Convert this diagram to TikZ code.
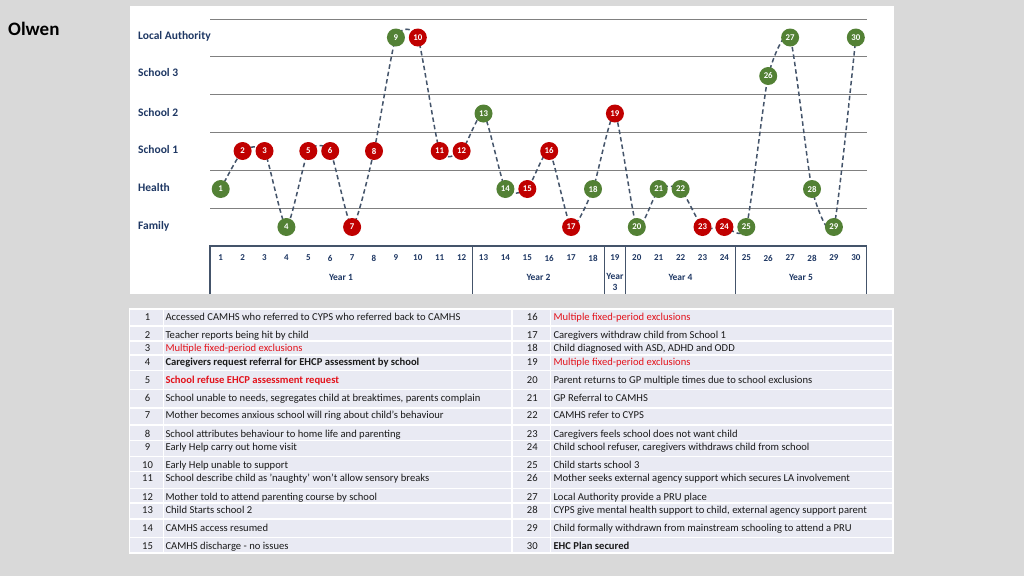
\documentclass[tikz,border=0pt]{standalone}
\usepackage{fontspec}
\setmainfont{Carlito}
\definecolor{pagebg}{HTML}{D9D9D9}
\definecolor{navy}{HTML}{1F3864}
\definecolor{evgreen}{HTML}{538135}
\definecolor{evred}{HTML}{C00000}
\definecolor{conncol}{HTML}{44546A}
\definecolor{gridcol}{HTML}{808080}
\definecolor{tablefill}{HTML}{E9EAF3}
\definecolor{txtred}{HTML}{E3121B}
\definecolor{txtcol}{HTML}{1A1A1A}
\begin{document}
\begin{tikzpicture}[x=1pt,y=1pt,
  ev/.style={circle,minimum size=18pt,inner sep=0pt,text=white,font=\fontsize{8.8}{9}\selectfont\bfseries},
  evg/.style={ev,fill=evgreen},
  evr/.style={ev,fill=evred},
  conn/.style={draw=conncol,line width=1.5pt,dash pattern=on 4.5pt off 3pt},
  gridline/.style={draw=gridcol,line width=1pt},
  axisline/.style={draw=conncol,line width=1.5pt},
  rowlab/.style={anchor=west,text=navy,font=\fontsize{11.5}{13}\selectfont\bfseries,inner sep=0pt},
  axnum/.style={text=navy,font=\fontsize{9}{10}\selectfont\bfseries,inner sep=0pt},
  yearlab/.style={text=navy,font=\fontsize{9.5}{10.5}\selectfont\bfseries,inner sep=0pt,align=center},
  tnum/.style={text=txtcol,font=\fontsize{10.6}{12}\selectfont,inner sep=0pt,text height=7pt,text depth=0.4pt},
  ttxt/.style={anchor=west,text=txtcol,font=\fontsize{10.6}{12}\selectfont,inner sep=0pt,text height=7pt,text depth=0.4pt},
  tred/.style={ttxt,text=txtred},
  tbold/.style={ttxt,font=\fontsize{10.6}{12}\selectfont\bfseries},
  tboldred/.style={tbold,text=txtred}
]
% background and panel
\fill[pagebg] (0,0) rectangle (1024,-576);
\useasboundingbox (0,0) rectangle (1024,-576);
\fill[white] (130,-6) rectangle (894,-294);
\node[anchor=west,inner sep=0pt,font=\fontsize{19}{22}\selectfont\bfseries] (title) at (8,-29) {Olwen};

% grid lines
\foreach \gy in {19,56,94.5,132,170,208} {
  \draw[gridline] (210,-\gy) -- (867,-\gy);
}
% row labels
\node[rowlab] (lLA) at (138,-36.5) {Local Authority};
\node[rowlab] (lS3) at (138,-73) {School 3};
\node[rowlab] (lS2) at (138,-113) {School 2};
\node[rowlab] (lS1) at (138,-149.5) {School 1};
\node[rowlab] (lH) at (138,-187.5) {Health};
\node[rowlab] (lF) at (138,-226) {Family};

% axis box
\draw[axisline] (210,-294) -- (210,-246) -- (866.7,-246) -- (866.7,-294);
\foreach \vx in {472.7,604.3,625.7,735.3} {
  \draw[axisline] (\vx,-246) -- (\vx,-294);
}
\foreach \i in {1,...,30} {
  \node[axnum] (ax\i) at ({220.7+21.9*(\i-1)},-258) {\i};
}
\node[yearlab] (y1) at (341,-277) {Year 1};
\node[yearlab] (y2) at (538.5,-277) {Year 2};
\node[yearlab] (y3) at (615,-282) {Year\\3};
\node[yearlab] (y4) at (680.5,-277) {Year 4};
\node[yearlab] (y5) at (801,-277) {Year 5};

% event positions
\foreach \i/\y in {1/189,2/151,3/151,4/227,5/151,6/151,7/227,8/151,9/37.5,10/37.5,
  11/151,12/151,13/113.5,14/189,15/189,16/151,17/227,18/189,19/113.5,20/227,
  21/189,22/189,23/227,24/227,25/227,26/76,27/37.5,28/189,29/227,30/37.5} {
  \coordinate (p\i) at ({220.7+21.9*(\i-1)},-\y);
}
% connector through all events
\draw[conn] plot[smooth,tension=0.35] coordinates {(p1) (p2) (p3) (p4) (p5) (p6) (p7) (p8) (p9) (p10)
  (p11) (p12) (p13) (p14) (p15) (p16) (p17) (p18) (p19) (p20)
  (p21) (p22) (p23) (p24) (p25) (p26) (p27) (p28) (p29) (p30)};
% event circles
\foreach \i/\s in {1/evg,2/evr,3/evr,4/evg,5/evr,6/evr,7/evr,8/evr,9/evg,10/evr,
  11/evr,12/evr,13/evg,14/evg,15/evr,16/evr,17/evr,18/evg,19/evr,20/evg,
  21/evg,22/evg,23/evr,24/evr,25/evg,26/evg,27/evg,28/evg,29/evg,30/evg} {
  \node[\s] (e\i) at (p\i) {\i};
}

% table
\fill[tablefill] (129.5,-309) rectangle (511.5,-553);
\fill[tablefill] (512.5,-309) rectangle (893,-553);
\draw[white,line width=1.2pt] (129.5,-309) rectangle (511.5,-553);
\draw[white,line width=1.2pt] (512.5,-309) rectangle (893,-553);
\foreach \ty in {326,341,355,370.7,389.3,408,425,440.7,456.7,471.7,488.3,503,519,537.3} {
  \draw[white,line width=1.2pt] (129.5,-\ty) -- (893,-\ty);
}
\draw[white,line width=1.2pt] (163.5,-309) -- (163.5,-553);
\draw[white,line width=1.2pt] (550.5,-309) -- (550.5,-553);

% column numbers
\foreach \n/\y in {1/316.7,2/334.7,3/348.3,4/361.7,5/379.7,6/397.7,7/415.3,8/433.7,9/447.3,10/465,11/478.3,12/496.7,13/509.7,14/528,15/546.3} {
  \node[tnum] (n\n) at (147.5,-\y) {\n};
}
\foreach \n/\y in {16/316.7,17/334.7,18/348.3,19/361.7,20/379.7,21/397.7,22/415.3,23/433.7,24/447.3,25/465,26/478.3,27/496.7,28/509.7,29/528,30/546.3} {
  \node[tnum] (n\n) at (532.3,-\y) {\n};
}
% left texts
\node[ttxt] (t1) at (165.3,-316.7) {Accessed CAMHS who referred to CYPS who referred back to CAMHS};
\node[ttxt] (t2) at (165.3,-334.7) {Teacher reports being hit by child};
\node[tred] (t3) at (165.3,-348.3) {Multiple fixed-period exclusions};
\node[tbold] (t4) at (165.3,-361.7) {Caregivers request referral for EHCP assessment by school};
\node[tboldred] (t5) at (165.3,-379.7) {School refuse EHCP assessment request};
\node[ttxt] (t6) at (165.3,-397.7) {School unable to needs, segregates child at breaktimes, parents complain};
\node[ttxt] (t7) at (165.3,-415.3) {Mother becomes anxious school will ring about child's behaviour};
\node[ttxt] (t8) at (165.3,-433.7) {School attributes behaviour to home life and parenting};
\node[ttxt] (t9) at (165.3,-447.3) {Early Help carry out home visit};
\node[ttxt] (t10) at (165.3,-465) {Early Help unable to support};
\node[ttxt] (t11) at (165.3,-478.3) {School describe child as 'naughty' won't allow sensory breaks};
\node[ttxt] (t12) at (165.3,-496.7) {Mother told to attend parenting course by school};
\node[ttxt] (t13) at (165.3,-509.7) {Child Starts school 2};
\node[ttxt] (t14) at (165.3,-528) {CAMHS access resumed};
\node[ttxt] (t15) at (165.3,-546.3) {CAMHS discharge - no issues};
% right texts
\node[tred] (t16) at (553.3,-316.7) {Multiple fixed-period exclusions};
\node[ttxt] (t17) at (553.3,-334.7) {Caregivers withdraw child from School 1};
\node[ttxt] (t18) at (553.3,-348.3) {Child diagnosed with ASD, ADHD and ODD};
\node[tred] (t19) at (553.3,-361.7) {Multiple fixed-period exclusions};
\node[ttxt] (t20) at (553.3,-379.7) {Parent returns to GP multiple times due to school exclusions};
\node[ttxt] (t21) at (553.3,-397.7) {GP Referral to CAMHS};
\node[ttxt] (t22) at (553.3,-415.3) {CAMHS refer to CYPS};
\node[ttxt] (t23) at (553.3,-433.7) {Caregivers feels school does not want child};
\node[ttxt] (t24) at (553.3,-447.3) {Child school refuser, caregivers withdraws child from school};
\node[ttxt] (t25) at (553.3,-465) {Child starts school 3};
\node[ttxt] (t26) at (553.3,-478.3) {Mother seeks external agency support which secures LA involvement};
\node[ttxt] (t27) at (553.3,-496.7) {Local Authority provide a PRU place};
\node[ttxt] (t28) at (553.3,-509.7) {CYPS give mental health support to child, external agency support parent};
\node[ttxt] (t29) at (553.3,-528) {Child formally withdrawn from mainstream schooling to attend a PRU};
\node[tbold] (t30) at (553.3,-546.3) {EHC Plan secured};
\end{tikzpicture}
\end{document}
